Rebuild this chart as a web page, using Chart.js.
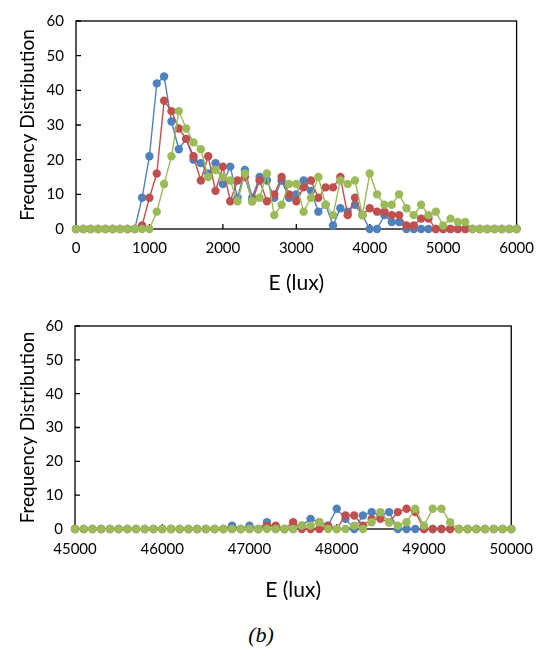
<!DOCTYPE html>
<html>
<head>
<meta charset="utf-8">
<script src="https://cdn.jsdelivr.net/npm/chart.js@4.4.1/dist/chart.umd.min.js"></script>
<style>
  html, body { margin: 0; padding: 0; background: #fff; }
  body { width: 544px; height: 654px; position: relative; overflow: hidden; }
  canvas { position: absolute; left: 0; }
  #c1 { top: 0; }
  #c2 { top: 305px; }
  #lbl { position: absolute; top: 622px; left: 221px; width: 80px; text-align: center;
         font: italic 22px "Liberation Serif", "DejaVu Serif", serif; color: #000; }
</style>
</head>
<body>
<canvas id="c1" width="544" height="305"></canvas>
<canvas id="c2" width="544" height="305"></canvas>
<div id="lbl">(b)</div>
<script>
// ---------- data ----------
const xTop = [0,100,200,300,400,500,600,700,800,900,1000,1100,1200,1300,1400,1500,1600,1700,1800,1900,
  2000,2100,2200,2300,2400,2500,2600,2700,2800,2900,3000,3100,3200,3300,3400,3500,3600,3700,3800,3900,
  4000,4100,4200,4300,4400,4500,4600,4700,4800,4900,5000,5100,5200,5300,5400,5500,5600,5700,5800,5900,6000];
const blueTop = [0,0,0,0,0,0,0,0,0,9,21,42,44,31,23,26,20,19,16,19,13,18,9,17,9,15,14,9,14,9,10,14,11,5,7,1,6,5,7,4,0,0,4,2,2,0,0,0,0,0,0,0,0,0,0,0,0,0,0,0,0];
const redTop  = [0,0,0,0,0,0,0,0,0,1,9,16,37,34,29,26,21,14,21,11,18,8,14,15,8,14,8,10,15,10,8,12,14,9,12,12,15,4,9,4,6,5,5,4,4,1,1,3,3,0,0,0,0,0,0,0,0,0,0,0,0];
const greenTop= [0,0,0,0,0,0,0,0,0,0,0,5,13,21,34,29,25,23,15,17,15,14,8,16,8,9,16,4,7,13,13,5,9,15,7,4,14,13,14,4,16,10,7,7,10,6,4,7,4,5,1,3,2,2,0,0,0,0,0,0,0];

const xBot = [45000,45100,45200,45300,45400,45500,45600,45700,45800,45900,46000,46100,46200,46300,46400,46500,46600,46700,46800,46900,
  47000,47100,47200,47300,47400,47500,47600,47700,47800,47900,48000,48100,48200,48300,48400,48500,48600,48700,48800,48900,
  49000,49100,49200,49300,49400,49500,49600,49700,49800,49900,50000];
const blueBot = [0,0,0,0,0,0,0,0,0,0,0,0,0,0,0,0,0,0,1,0,1,0,2,0,0,0,1,3,2,1,6,3,0,4,5,4,5,0,0,0,0,0,0,0,0,0,0,0,0,0,0];
const redBot  = [0,0,0,0,0,0,0,0,0,0,0,0,0,0,0,0,0,0,0,0,0,0,1,1,0,2,0,0,0,1,0,4,4,1,3,3,2,5,6,5,0,0,0,0,0,0,0,0,0,0,0];
const greenBot= [0,0,0,0,0,0,0,0,0,0,0,0,0,0,0,0,0,0,0,0,0,0,0,0,0,0,1,1,2,0,0,0,1,0,2,5,2,1,2,6,1,6,6,2,0,0,0,0,0,0,0];

const yTicks = [0,10,20,30,40,50,60];
const xTopTicks = [0,1000,2000,3000,4000,5000,6000];
const xBotTicks = [45000,46000,47000,48000,49000,50000];

// ---------- styling ----------
const BLUE = '#4F81BD', RED = '#C0504D', GREEN = '#9BBB59';
const FONT = 'Lato, "Open Sans", sans-serif';

const framePlugin = {
  id: 'frame',
  beforeDatasetsDraw(chart) {
    const {ctx, chartArea: a} = chart;
    const x = chart.scales.x, y = chart.scales.y;
    ctx.save();
    ctx.strokeStyle = '#000';
    ctx.lineWidth = 1.3;
    ctx.strokeRect(a.left, a.top, a.right - a.left, a.bottom - a.top);
    ctx.beginPath();
    y.ticks.forEach(t => { const py = y.getPixelForValue(t.value); ctx.moveTo(a.left, py); ctx.lineTo(a.left + 5, py); });
    x.ticks.forEach(t => { const px = x.getPixelForValue(t.value); ctx.moveTo(px, a.bottom); ctx.lineTo(px, a.bottom - 5); });
    ctx.stroke();
    ctx.restore();
  }
};

function ds(xs, ys, color, order) {
  return {
    data: xs.map((v, i) => ({x: v, y: ys[i]})),
    borderColor: color,
    backgroundColor: color,
    borderWidth: 1.4,
    pointRadius: 4.2,
    pointBorderWidth: 0,
    pointBackgroundColor: color,
    tension: 0,
    clip: false,
    order: order
  };
}

function makeChart(id, xs, series, xTicks, cfg) {
  return new Chart(document.getElementById(id), {
    type: 'line',
    data: { datasets: [
      ds(xs, series[0], BLUE, 3),
      ds(xs, series[1], RED, 2),
      ds(xs, series[2], GREEN, 1)
    ]},
    options: {
      responsive: false,
      animation: false,
      devicePixelRatio: 1,
      layout: { padding: { top: cfg.padTop, right: cfg.padRight, left: 0, bottom: 0 } },
      plugins: { legend: { display: false }, tooltip: { enabled: false } },
      scales: {
        x: {
          type: 'linear',
          min: xTicks[0], max: xTicks[xTicks.length - 1],
          afterBuildTicks: s => { s.ticks = xTicks.map(v => ({value: v})); },
          afterFit: s => { s.height = cfg.xHeight; },
          grid: { display: false, drawTicks: false },
          border: { display: false },
          ticks: { color: '#000', font: { family: FONT, size: 15 }, padding: cfg.xPad, maxRotation: 0, autoSkip: false,
                   callback: v => String(v) },
          title: { display: true, text: 'E (lux)', color: '#000', font: { family: FONT, size: 21 }, padding: { top: 0, bottom: cfg.xTitlePad } }
        },
        y: {
          type: 'linear',
          min: 0, max: 60,
          afterBuildTicks: s => { s.ticks = yTicks.map(v => ({value: v})); },
          afterFit: s => { s.width = cfg.yWidth; },
          grid: { display: false, drawTicks: false },
          border: { display: false },
          ticks: { color: '#000', font: { family: FONT, size: 15 }, padding: 12 },
          title: { display: true, text: 'Frequency Distribution', color: '#000', font: { family: FONT, size: 19 }, padding: { top: 16, bottom: 0 } }
        }
      }
    },
    plugins: [framePlugin]
  });
}

makeChart('c1', xTop, [blueTop, redTop, greenTop], xTopTicks,
  { padTop: 15, padRight: 25, xHeight: 76, yWidth: 76, xPad: 10, xTitlePad: 9 });
makeChart('c2', xBot, [blueBot, redBot, greenBot], xBotTicks,
  { padTop: 18, padRight: 28, xHeight: 81, yWidth: 75, xPad: 11, xTitlePad: 7 });
</script>
</body>
</html>
